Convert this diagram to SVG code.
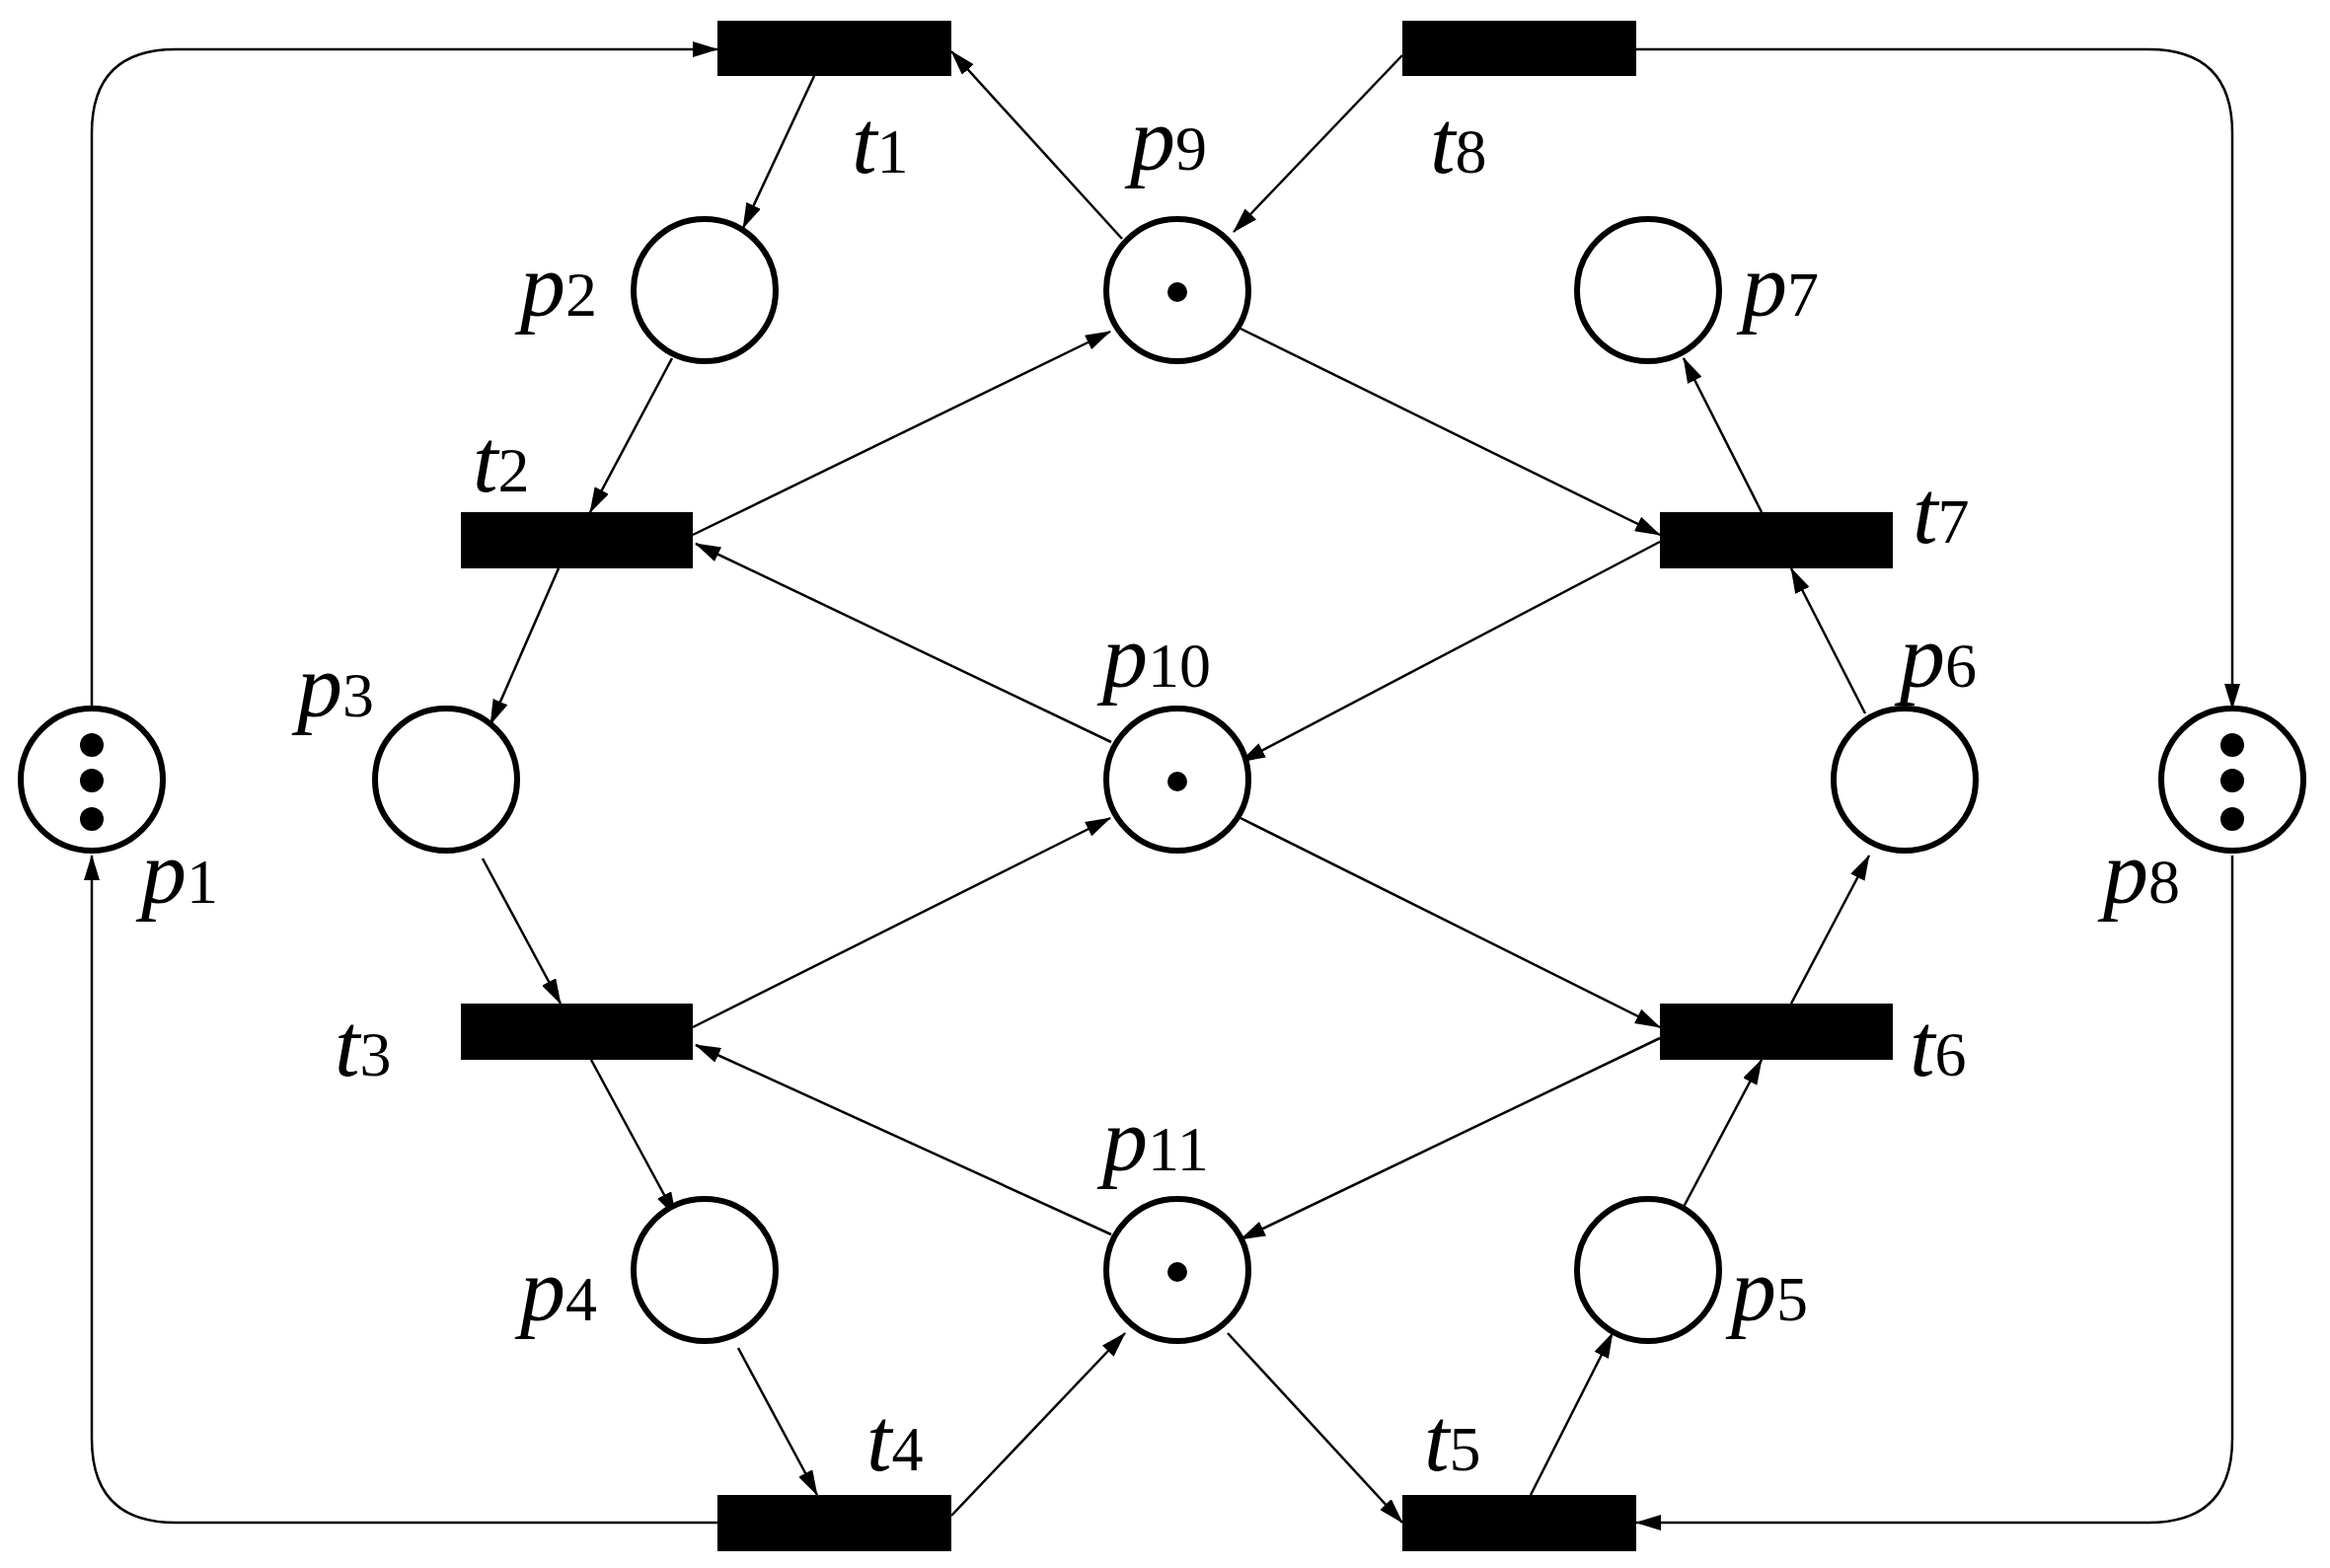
<svg xmlns="http://www.w3.org/2000/svg" width="2361" height="1589" viewBox="0 0 2361 1589">
<style>
.pl{fill:#fff;stroke:#000;stroke-width:6}
.tr{fill:#000}
.tk{fill:#000}
.ar{fill:none;stroke:#000;stroke-width:2.5;marker-end:url(#ah)}
.lb{font-family:"Liberation Serif",serif;font-style:italic;font-size:92px;fill:#000}
.sb{font-style:normal;font-size:64px}
</style>
<defs>
<marker id="ah" markerUnits="userSpaceOnUse" markerWidth="26" markerHeight="16" refX="25" refY="8" orient="auto"><path d="M0,0 L26,8 L0,16 Z" fill="#000"/></marker>
</defs>
<rect width="2361" height="1589" fill="#fff"/>
<g id="connectors">
<path class="ar" d="M93,718 V135 Q93,50 178,50 H727"/>
<path class="ar" d="M825,77 L753,231"/>
<path class="ar" d="M1137,242 L964,52"/>
<path class="ar" d="M1421,56 L1250,235"/>
<path class="ar" d="M1658,50 H2177 Q2262,50 2262,135 V718"/>
<path class="ar" d="M681,363 L598,519"/>
<path class="ar" d="M702,542 L1125,336"/>
<path class="ar" d="M1126,752 L705,551"/>
<path class="ar" d="M566,576 L497,734"/>
<path class="ar" d="M1257,333 L1682,542"/>
<path class="ar" d="M1785,519 L1706,363"/>
<path class="ar" d="M1682,549 L1257,772"/>
<path class="ar" d="M1890,723 L1815,576"/>
<path class="ar" d="M489,870 L568,1017"/>
<path class="ar" d="M702,1041 L1125,829"/>
<path class="ar" d="M1126,1251 L705,1059"/>
<path class="ar" d="M1257,829 L1682,1041"/>
<path class="ar" d="M1815,1017 L1894,867"/>
<path class="ar" d="M1682,1052 L1257,1256"/>
<path class="ar" d="M1706,1223 L1785,1074"/>
<path class="ar" d="M599,1074 L685,1233"/>
<path class="ar" d="M748,1366 L828,1515"/>
<path class="ar" d="M964,1536 L1140,1351"/>
<path class="ar" d="M1244,1351 L1421,1543"/>
<path class="ar" d="M1551,1515 L1634,1351"/>
<path class="ar" d="M2262,867 V1458 Q2262,1543 2177,1543 H1658"/>
<path class="ar" d="M727,1543 H178 Q93,1543 93,1458 V867"/>
</g>
<g id="t1"><rect class="tr" x="727" y="21" width="237" height="56"/><text class="lb" x="863" y="175">t<tspan class="sb">1</tspan></text></g>
<g id="t8"><rect class="tr" x="1421" y="21" width="237" height="56"/><text class="lb" x="1449" y="175">t<tspan class="sb">8</tspan></text></g>
<g id="t2"><rect class="tr" x="467" y="519" width="235" height="57"/><text class="lb" x="479" y="498">t<tspan class="sb">2</tspan></text></g>
<g id="t7"><rect class="tr" x="1682" y="519" width="236" height="57"/><text class="lb" x="1938" y="550">t<tspan class="sb">7</tspan></text></g>
<g id="t3"><rect class="tr" x="467" y="1017" width="235" height="57"/><text class="lb" x="339" y="1090">t<tspan class="sb">3</tspan></text></g>
<g id="t6"><rect class="tr" x="1682" y="1017" width="236" height="57"/><text class="lb" x="1935" y="1090">t<tspan class="sb">6</tspan></text></g>
<g id="t4"><rect class="tr" x="727" y="1515" width="237" height="57"/><text class="lb" x="878" y="1490">t<tspan class="sb">4</tspan></text></g>
<g id="t5"><rect class="tr" x="1421" y="1515" width="237" height="57"/><text class="lb" x="1443" y="1490">t<tspan class="sb">5</tspan></text></g>
<g id="p1"><circle class="pl" cx="93" cy="790" r="72"/><circle class="tk" cx="93" cy="755" r="12"/><circle class="tk" cx="93" cy="791" r="12"/><circle class="tk" cx="93" cy="830" r="12"/><text class="lb" x="143" y="915">p<tspan class="sb">1</tspan></text></g>
<g id="p8"><circle class="pl" cx="2262" cy="790" r="72"/><circle class="tk" cx="2262" cy="755" r="12"/><circle class="tk" cx="2262" cy="791" r="12"/><circle class="tk" cx="2262" cy="830" r="12"/><text class="lb" x="2131" y="915">p<tspan class="sb">8</tspan></text></g>
<g id="p2"><circle class="pl" cx="714" cy="294" r="72"/><text class="lb" x="527" y="320">p<tspan class="sb">2</tspan></text></g>
<g id="p7"><circle class="pl" cx="1670" cy="294" r="72"/><text class="lb" x="1765" y="320">p<tspan class="sb">7</tspan></text></g>
<g id="p9"><circle class="pl" cx="1193" cy="294" r="72"/><circle class="tk" cx="1193" cy="296" r="10"/><text class="lb" x="1145" y="172">p<tspan class="sb">9</tspan></text></g>
<g id="p3"><circle class="pl" cx="452" cy="790" r="72"/><text class="lb" x="301" y="726">p<tspan class="sb">3</tspan></text></g>
<g id="p10"><circle class="pl" cx="1193" cy="790" r="72"/><circle class="tk" cx="1193" cy="792" r="10"/><text class="lb" x="1117" y="696">p<tspan class="sb">10</tspan></text></g>
<g id="p6"><circle class="pl" cx="1930" cy="790" r="72"/><text class="lb" x="1925" y="696">p<tspan class="sb">6</tspan></text></g>
<g id="p4"><circle class="pl" cx="714" cy="1287" r="72"/><text class="lb" x="527" y="1338">p<tspan class="sb">4</tspan></text></g>
<g id="p11"><circle class="pl" cx="1193" cy="1287" r="72"/><circle class="tk" cx="1193" cy="1289" r="10"/><text class="lb" x="1117" y="1186">p<tspan class="sb">11</tspan></text></g>
<g id="p5"><circle class="pl" cx="1670" cy="1287" r="72"/><text class="lb" x="1754" y="1338">p<tspan class="sb">5</tspan></text></g>
</svg>
